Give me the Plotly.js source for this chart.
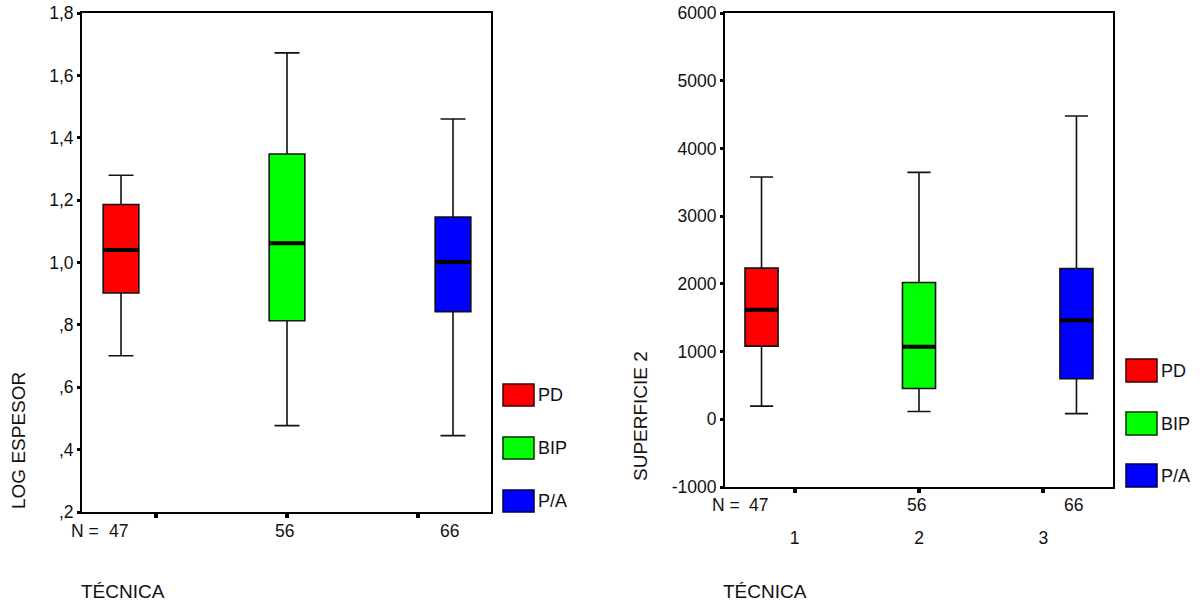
<!DOCTYPE html>
<html>
<head>
<meta charset="utf-8">
<script src="https://cdn.plot.ly/plotly-3.0.1.min.js"></script>
<style>html,body{margin:0;padding:0;background:#fff;}#chart{width:1200px;height:601px;}</style>
</head>
<body>
<div id="chart"></div>
<script>
// ---- data ----
const categories = ['PD', 'BIP', 'P/A'];
const positions = [1, 2, 3];
const counts = [47, 56, 66];
const colors = ['#ff0000', '#00ff00', '#0000ff'];
const borderColors = ['#3a0000', '#003000', '#00003a'];

// LOG ESPESOR
const logLow  = [0.701, 0.477, 0.445];
const logQ1   = [0.902, 0.813, 0.842];
const logMed  = [1.040, 1.062, 1.002];
const logQ3   = [1.186, 1.348, 1.146];
const logHigh = [1.280, 1.672, 1.460];
const logTickVals = [0.2, 0.4, 0.6, 0.8, 1.0, 1.2, 1.4, 1.6, 1.8];
const logTickText = [',2', ',4', ',6', ',8', '1,0', '1,2', '1,4', '1,6', '1,8'];

// SUPERFICIE 2
const supLow  = [195, 114, 84];
const supQ1   = [1081, 455, 598];
const supMed  = [1617, 1072, 1461];
const supQ3   = [2233, 2019, 2226];
const supHigh = [3578, 3647, 4480];
const supTickVals = [-1000, 0, 1000, 2000, 3000, 4000, 5000, 6000];
const supTickText = ['-1000', '0', '1000', '2000', '3000', '4000', '5000', '6000'];

const techTickVals = [1.21, 2, 2.79];
const techTickText = ['1', '2', '3'];

// ---- layout helpers ----
const W = 1200, H = 601;
const px = v => v / W;
const py = v => 1 - v / H;
const FONT = 'Liberation Sans, Arial, sans-serif';
const TXT = '#111';

const traces = [];
function addPanel(low, q1, med, q3, high, xa, ya, boxW) {
  for (let i = 0; i < categories.length; i++) {
    traces.push({
      type: 'box', name: categories[i], x: [positions[i]],
      lowerfence: [low[i]], q1: [q1[i]], median: [med[i]], q3: [q3[i]], upperfence: [high[i]],
      xaxis: xa, yaxis: ya, width: boxW, whiskerwidth: 0.7,
      fillcolor: colors[i], line: {color: '#111', width: 1.6},
      boxpoints: false, showlegend: false, hoverinfo: 'skip'
    });
    traces.push({
      type: 'scatter', mode: 'lines', xaxis: xa, yaxis: ya,
      x: [positions[i] - boxW / 2, positions[i] + boxW / 2], y: [med[i], med[i]],
      line: {color: '#000', width: 4}, showlegend: false, hoverinfo: 'skip'
    });
  }
}
addPanel(logLow, logQ1, logMed, logQ3, logHigh, 'x', 'y', 0.215);
addPanel(supLow, supQ1, supMed, supQ3, supHigh, 'x2', 'y2', 0.21);

const axisCommon = {
  showline: true, linecolor: '#000', linewidth: 2, mirror: true,
  showgrid: false, zeroline: false, ticks: 'outside', tickcolor: '#000',
  tickfont: {family: FONT, size: 17.5, color: TXT}, fixedrange: true
};

const annotations = [];
const shapes = [];

// N labels
function nLabels(xa, yPix) {
  for (let i = 0; i < counts.length; i++) {
    annotations.push({xref: xa, yref: 'paper', x: positions[i], y: py(yPix), text: String(counts[i]),
      showarrow: false, xanchor: 'center', yanchor: 'middle', xshift: -3,
      font: {family: FONT, size: 17.5, color: TXT}});
  }
  annotations.push({xref: xa, yref: 'paper', x: positions[0], y: py(yPix), text: 'N =',
    showarrow: false, xanchor: 'right', yanchor: 'middle', xshift: -20,
    font: {family: FONT, size: 17.5, color: TXT}});
}
nLabels('x', 531);
nLabels('x2', 505);

// axis titles
annotations.push({xref: 'paper', yref: 'paper', x: px(18), y: py(441), text: 'LOG ESPESOR', textangle: -90,
  showarrow: false, xanchor: 'center', yanchor: 'middle', font: {family: FONT, size: 19, color: TXT}});
annotations.push({xref: 'paper', yref: 'paper', x: px(640), y: py(416), text: 'SUPERFICIE 2', textangle: -90,
  showarrow: false, xanchor: 'center', yanchor: 'middle', font: {family: FONT, size: 19, color: TXT}});
annotations.push({xref: 'paper', yref: 'paper', x: px(79), y: py(591), text: 'TÉCNICA',
  showarrow: false, xanchor: 'left', yanchor: 'middle', font: {family: FONT, size: 19, color: TXT}});
annotations.push({xref: 'paper', yref: 'paper', x: px(721), y: py(591), text: 'TÉCNICA',
  showarrow: false, xanchor: 'left', yanchor: 'middle', font: {family: FONT, size: 19, color: TXT}});

// legends
function legend(x0, tops, h) {
  for (let i = 0; i < categories.length; i++) {
    shapes.push({type: 'rect', xref: 'paper', yref: 'paper', x0: px(x0), x1: px(x0 + 31),
      y0: py(tops[i] + h), y1: py(tops[i]), fillcolor: colors[i], line: {color: borderColors[i], width: 1.5}});
    annotations.push({xref: 'paper', yref: 'paper', x: px(x0 + 33), y: py(tops[i] + h / 2), text: categories[i],
      showarrow: false, xanchor: 'left', yanchor: 'middle', font: {family: FONT, size: 18, color: TXT}});
  }
}
legend(503, [384, 437, 490], 22);
legend(1126, [359, 412, 464], 23);

const layout = {
  width: W, height: H, margin: {l: 0, r: 0, t: 0, b: 0},
  paper_bgcolor: '#fff', plot_bgcolor: '#fff', showlegend: false,
  xaxis: Object.assign({}, axisCommon, {domain: [px(82), px(491)], range: [0.765, 3.229], anchor: 'y',
    tickvals: techTickVals, ticktext: ['', '', ''], ticklen: 4, tickwidth: 4}),
  yaxis: Object.assign({}, axisCommon, {domain: [py(512), py(13)], range: [0.2, 1.8], anchor: 'x',
    tickvals: logTickVals, ticktext: logTickText, ticklen: 3, tickwidth: 3}),
  xaxis2: Object.assign({}, axisCommon, {domain: [px(725), px(1113)], range: [0.768, 3.232], anchor: 'y2',
    tickvals: techTickVals, ticktext: techTickText, ticklen: 4, tickwidth: 4, ticklabelstandoff: 30}),
  yaxis2: Object.assign({}, axisCommon, {domain: [py(487), py(13)], range: [-1000, 6000], anchor: 'x2',
    tickvals: supTickVals, ticktext: supTickText, ticklen: 3, tickwidth: 3}),
  annotations: annotations, shapes: shapes
};

Plotly.newPlot('chart', traces, layout, {displayModeBar: false, staticPlot: true});
</script>
</body>
</html>
